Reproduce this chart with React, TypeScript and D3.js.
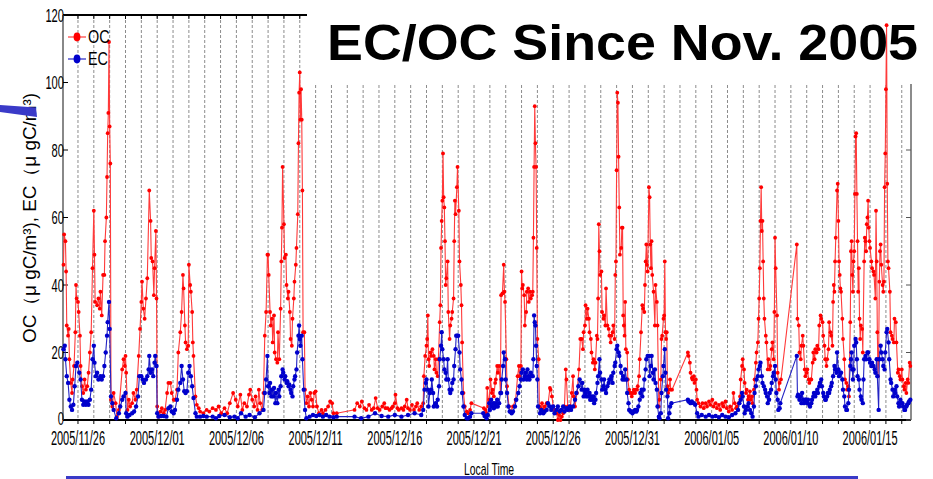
import React from "react";
import * as d3 from "d3";

// hours after 2005/11/26 00:00, concentration (µgC/m³ as labelled on the axis)
const ocSeries: [number, number][] = [
  [-22,46],[-21,55],[-19,53],[-18,44],[-17,28],[-15,25],[-14,27],[-13,18],[-11,11],[-9,8],[-8,12],[-6,16],[-4,26],[-3,40],[-2,36],[0,35],[1,32],[3,25],[4,16],[6,10],[8,8],[10,12],[12,9],[14,10],[16,14],[18,20],[20,26],[22,45],[24,62],[25,49],[26,35],[29,34],[31,36],[33,33],[34,38],[36,31],[38,43],[40,43],[41,53],[43,60],[44,72],[45,85],[46,91],[47,112],[48,87],[49,76],[50,6],[52,4],[54,8],[57,5],[59,1],[62,3],[67,15],[69,18],[71,16],[72,19],[73,14],[75,3],[77,6],[79,4],[82,5],[84,8],[87,6],[89,9],[92,19],[94,27],[96,35],[97,41],[99,33],[101,30],[103,36],[105,42],[108,68],[110,59],[111,48],[113,47],[115,37],[116,45],[118,56],[119,36],[120,4],[122,1],[125,2.5],[127,3.5],[130,2],[132,3],[135,8],[137,11],[140,11],[142,8],[145,6],[147,6],[150,9],[152,20],[155,26],[157,32],[159,43],[160,39],[162,28],[163,23],[165,21],[167,22],[168,46],[170,40],[171,38],[173,32],[174,23],[175,19],[178,7],[180,4.5],[183,3.5],[185,2.5],[190,2],[195,3],[199,2.5],
  [204,3.5],[209,3],[213,4],[217,2],[222,3.5],[226,2],[230,5],[235,8],[239,6],[242,4],[246,7.5],[249,3],[252,5],[256,4],[259,7.5],[261,9],[264,6],[267,4],[269,7],[272,3],[274,9],[276,5],[279,3],[281,8],[283,25],[285,32],[287,49],[288,49],[289,43],[291,32],[292,28],[294,30],[295,23],[297,31],[298,20],[300,18],[302,17],[303,26],[305,18],[307,33],[308,47],[309,57],[310,75],[312,58],[313,48],[315,49],[316,40],[318,36],[319,38],[321,32],[322,24],[324,22],[325,30],[327,36],[328,41],[330,46],[331,51],[333,61],[334,82],[335,97],[336,103],[337,89],[338,98],[339,89],[340,68],[341,26],[343,26],[344,9],[346,5],[348,7],[350,4],[352,8],[354,6],[356,4],[358,8],[360,8.5],[362,4],[365,2],[369,3],[371,2],[375,3],[379,4],[382,5.5],[385,5],[387,2],[392,2],
  [419,3],[423,5],[427,4],[430,5.5],[434,3.5],[437,3],[441,4.5],[445,3],[448,3.5],[451,6.5],[454,3.5],[457,3],[461,4],[464,5],[466,3.5],[469,3.5],[472,3],[475,3.5],[477,4],[480,5],[481,7.5],[484,3.5],[486,3],[490,3.5],[493,3],[495,4],[498,6],[500,3.5],[503,3],[506,4.5],[509,3],[512,4],[514,5],[517,3],[520,4],[523,5],[524,13],[526,19],[528,22],[529,24],[530,31],[531,18],[532,16],[534,20],[535,19],[537,21],[539,19],[540,15],[542,18],[543,14],[545,13],[546,18],[548,29],[549,34],[550,51],[551,59],[552,65],[553,79],[554,66],[555,63],[556,53],[557,40],[558,42],[560,47],[561,32],[563,24],[564,28],[566,30],[567,32],[569,36],[570,53],[571,65],[572,61],[574,69],[575,75],[577,62],[578,47],[580,40],[581,34],[582,23],[584,8],[586,4],[589,2.5],[591,2],[594,3],[596,5],[615,3.5],[617,3],[619,2],[620,9.5],[622,4],[623,6],[625,12],[627,8],[628,9],[630,7],[632,11],[633,12],[635,16],[636,14],[638,16],[640,8],
  [641,37],[643,37.5],[645,46],[646,38],[647,35],[649,18],[650,10],[653,4],[655,2.5],[659,4],[663,6],[666,13],[668,16],[669,13],[671,16],[672,44],[673,39],[674,40],[676,37],[677,28],[679,32],[680,38],[682,39],[683,35],[685,38],[686,36],[688,37],[689,38],[690,54],[691,75],[692,93],[693,82],[694,75],[695,51],[696,24],[698,18],[699,4],[701,3.5],[703,5],[705,3],[707,4],[710,5],[712,4.5],[715,9.5],[716,9],[718,7],[720,4],[722,3],[725,2],[727,0],[729,1.5],[731,0],[733,1],[735,2],[737,4],[739,15],[740,12],[742,4],[744,3],[746,4],[748,8],[750,13],[751,7],[753,4],[756,8],[759,15],[761,24],[763,24],[765,21],[766,26],[768,28],[769,34],[771,30],[772,33],[774,30],[775,26],[777,24],[778,20],[780,17],[781,18],[783,15],[784,17],[786,25],[787,24],[788,36],[789,58],[790,50],[791,43],[793,44],[794,32],[796,30],[797,31],[799,28],[800,39],[802,28],[804,27],[805,25],[807,23],[808,25],[810,26],[811,28],[813,24],[814,43],[815,47],[816,74],[817,97],[818,94],[819,78],[820,63],[821,49],[823,51],[824,57],[825,57],[826,31],[827,28],[828,25],[829,35],[830,21],[832,20],[833,12],[835,9],[836,8],[838,8],[839,7],[841,8],[842,9],[844,8],[845,9],[847,9],[848,10],[850,13],[851,18],[853,26],[855,34],[856,33],[858,32],[859,40],[860,47],[861,52],[862,46],[863,44],
  [865,69],[866,66],[867,52],[868,45],[869,53],[870,43],[872,38],[874,28],[875,40],[877,35],[878,28],[880,4],[881,6],[883,12],[884,24],[885,25],[887,30],[888,31],[889,47],[890,26],[891,24],[892,26],[893,10],[894,8],[895,9],[897,12],[898,9],[900,9],[924,20],[925,19],[927,17],[928,14],[930,12.5],[931,12],[933,13],[934,11],[936,12],[937,9],[938,6],[940,5],[943,4],[946,5],[948,3.5],[951,5],[953,4],[956,5.5],[958,4.5],[961,6],[963,4],[966,5],[968,3.5],[971,4.5],[973,3],[976,5],[978,4],[981,5.5],[983,3.5],[986,2.5],[988,4],[991,3],[993,8],[995,5],[997,3.5],[999,4],[1001,5],[1003,7],[1004,12],[1006,16],[1007,18],[1009,15],[1010,11],[1012,8],[1013,9],[1015,6],[1016,7],[1018,8.5],[1019,6],[1021,7],[1022,5],[1024,9],[1025,12],[1027,17],[1028,20],[1030,23],[1031,30],[1032,36],[1033,45],[1034,59],[1035,69],[1036,56],[1037,59],[1038,47],[1039,36],[1040,30],[1042,25],[1043,23],[1045,15],[1046,18],[1048,15],[1049,16],[1051,21],[1052,23],[1054,18],[1055,32],[1056,54],[1057,45],[1059,31],[1060,14],[1062,9],[1063,11],[1065,12],
  [1089,52],[1090,30],[1092,28],[1093,20],[1095,18],[1096,22],[1098,25],[1099,22],[1101,15],[1102,13],[1104,14],[1105,15],[1107,12],[1108,11],[1110,12],[1111,12],[1113,17],[1114,20],[1116,18],[1117,21],[1119,20],[1120,22],[1122,21],[1123,28],[1125,31],[1126,30],[1128,29],[1129,25],[1131,22],[1132,18],[1134,16],[1135,18],[1137,21],[1138,29],[1140,26],[1141,25],[1143,22],[1144,35],[1145,40],[1146,38],[1147,47],[1148,54],[1150,68],[1151,70],[1152,59],[1153,47],[1154,43],[1155,39],[1156,38],[1158,30],[1159,24],[1161,18],[1162,12],[1164,11],[1165,9],[1167,10],[1168,7],[1170,29],[1171,50],[1172,53],[1173,43],[1174,38],[1175,47],[1176,50],[1177,67],[1178,84],[1179,85],[1180,67],[1181,53],[1182,38],[1183,45],[1184,30],[1185,24],[1186,28],[1188,27],[1189,20],[1191,47],[1192,54],[1193,53],[1194,50],[1195,58],[1196,60],[1197,65],[1198,57],[1199,53],[1200,51],[1202,47],[1203,45],[1205,44],[1206,43],[1208,36],[1209,62],[1210,47],[1211,26],[1212,13],[1213,18],[1214,41],[1215,50],[1216,52],[1217,46],[1219,40],[1220,38],[1221,41],[1222,69],[1223,79],[1224,98],[1225,117],[1226,70],[1227,47],[1228,45],[1230,38],[1231,26],[1233,25],[1234,24],[1236,23],[1237,30],[1239,29],[1240,23],[1242,14],[1243,15],[1245,13],[1246,12],[1248,15],[1249,12],[1251,10],[1252,9],[1254,11],[1255,8],[1257,12],[1258,11],[1260,17],[1261,16],
];

const ecSeries: [number, number][] = [
  [-22,21],[-20,22],[-19,18],[-17,13],[-15,11],[-13,6],[-11,4],[-9,3],[-7,4.5],[-5,10],[-3,16],[-1,17],[2,14],[4,12],[6,6],[8,4.5],[10,5.5],[12,4.5],[14,5.5],[16,4.5],[18,6],[20,9],[22,18],[24,22],[25,17],[27,13],[29,14],[31,12],[34,13],[36,12],[38,13],[40,16],[42,20],[44,25],[45,29],[47,35],[48,27],[50,7],[52,5],[54,3],[58,0.5],[62,2],[64,4],[67,6],[69,7],[72,8],[73,2],[75,1],[78,1.5],[82,2],[85,2.5],[88,4],[91,7],[93,13],[96,13],[98,12],[100,11],[103,12],[105,13],[107,15],[108,19],[110,14],[112,15],[114,13],[116,17],[117,19],[119,16],[120,2],[122,1],[126,1.2],[130,1.2],[134,1],[137,3.5],[140,4],[142,2.5],[145,2],[147,3],[150,6],[152,9],[155,11],[157,16],[159,12],[161,8.5],[163,8],[165,8.5],[167,14],[169,16],[171,13],[173,10],[175,6.5],[178,2],[180,1],[185,1],[190,1.2],[195,1],
  [204,1],[209,0.5],[214,1.2],[222,1.5],[230,0.8],[237,1],[242,0.5],[247,2],[254,1],[260,1.5],[268,0.8],[275,2],[281,3],[283,8],[285,12],[287,19],[288,10],[290,8],[291,11],[293,7],[294,9],[296,7],[297,9.5],[299,5],[300,8],[302,5],[304,9],[305,7],[307,10],[308,13],[310,15],[311,14],[313,12],[314,13],[316,11],[317,11.5],[319,10],[320,10.5],[322,9],[323,8],[325,7],[326,10],[328,12],[329,13],[331,15],[332,20],[334,25],[335,28],[336,24],[337,22],[339,25],[340,18],[342,9],[344,3],[346,0.5],[351,1],[356,1.5],[361,1.2],[366,1.5],[371,1],[376,1.5],[381,1],[387,0.8],[392,1],
  [419,1],[429,0.5],[440,1],[450,2],[460,1.2],[470,1],[480,1.5],[490,1],[500,1.5],[510,2],[520,1.5],[523,3],[525,9],[527,11],[528,12],[530,9],[531,4],[533,8],[535,9],[536,12],[538,8],[539,4],[541,4.5],[542,5],[544,4],[545,6],[547,10],[548,18],[550,22],[551,26],[552,21],[554,18],[555,15],[557,14],[558,12],[560,18],[561,12],[563,9],[564,8],[566,9],[567,11],[569,12],[570,16],[572,21],[573,25],[575,25],[576,25],[578,20],[579,15],[581,12],[582,8],[584,4],[586,1.5],[589,0.5],[591,0.5],[594,1],[596,2],[614,2],[616,1.2],[619,0.5],[621,1.5],[623,5],[624,3],[626,6],[627,4],[629,5],[630,3.5],[632,5],[633,4],[635,6],[636,4],[638,5],[640,8],
  [641,8],[642,12],[644,16],[645,20],[647,18],[648,12],[650,8],[652,4],[654,2.5],[657,2],[659,2.5],[662,4],[664,6],[667,8],[669,10],[671,12],[672,14],[674,15],[675,12],[677,13],[678,14],[680,12],[681,15],[683,13],[684,12],[686,14],[687,13],[689,13],[690,18],[691,31],[692,29],[693,28],[694,22],[695,16],[696,12],[697,4],[700,2],[702,3],[705,2],[707,2.5],[710,3],[712,5],[715,4],[717,3],[720,4],[722,2],[725,3],[727,4],[730,2.5],[732,3],[735,4],[737,2.5],[740,3.5],[742,3],[745,4],[747,3],[750,4],[753,6],[755,8],[758,10],[760,12],[763,9],[764,11],[766,7],[767,9],[769,8],[770,7],[772,9],[773,7],[775,8],[776,6],[778,7],[779,6],[781,7],[782,5],[784,6],[785,8],[787,11],[788,13],[790,18],[791,14],[793,12],[794,9],[796,10],[797,12],[799,9],[800,8],[802,10],[804,11],[805,12],[807,12],[808,13],[810,11],[811,14],[813,16],[814,17],[816,21],[817,22],[819,20],[820,19],[822,16],[823,14],[825,12],[826,13],[828,12],[829,15],[831,12],[832,8],[834,5],[835,3],[837,2.5],[838,2.5],[840,2],[841,2.5],[843,2.5],[844,3],[846,2.5],[847,3],[849,4],[851,6],[852,8],[854,9],[855,7],[857,9],[858,12],[860,15],[861,18],[863,19],
  [865,19],[866,13],[868,16],[869,19],[871,14],[872,12],[874,15],[875,11],[877,9],[878,4],[880,1],[881,0.5],[883,2],[884,8],[886,13],[887,16],[889,21],[890,14],[891,9],[893,7],[894,0.5],[896,2],[897,4],[899,5],[924,6],[925,5.5],[928,5],[930,5.5],[933,5],[935,4.5],[938,2],[940,1],[945,1.5],[951,1],[956,1.5],[961,1],[966,1.2],[971,0.8],[976,1.5],[981,1],[986,0.8],[991,1.5],[996,2],[1000,3],[1002,5],[1004,6],[1006,8],[1007,7],[1009,4],[1010,2],[1012,3],[1014,4],[1016,5],[1018,3],[1020,2],[1022,1],[1024,4],[1025,8],[1027,10],[1028,12],[1030,13],[1031,15],[1033,16],[1034,17],[1036,13],[1037,11],[1039,10],[1041,9],[1042,8],[1044,7],[1045,5],[1047,6],[1048,8],[1050,9],[1051,11],[1053,13],[1054,14],[1056,16],[1057,12],[1058,8],[1060,6],[1061,3],[1063,3.5],[1064,5],
  [1089,19],[1090,7],[1091,7.5],[1093,6],[1094,7],[1096,5],[1097,8],[1099,6],[1100,5],[1102,6],[1103,6],[1105,5],[1106,6],[1108,4.5],[1109,4],[1111,5],[1112,6],[1114,7],[1115,8],[1117,7],[1118,8],[1120,9],[1121,8],[1123,10],[1124,11],[1126,12],[1127,10],[1129,8],[1130,7],[1132,6],[1133,6],[1135,7],[1136,8],[1138,8],[1139,9],[1141,10],[1142,11],[1144,13],[1146,16],[1147,15],[1149,14],[1150,20],[1152,15],[1153,13],[1155,14],[1156,14],[1158,12],[1159,9],[1161,7],[1162,4],[1164,3],[1165,3],[1167,5],[1168,9],[1170,16],[1171,18],[1172,20],[1173,15],[1174,12],[1175,15],[1176,22],[1178,24],[1179,23],[1180,18],[1181,13],[1183,12],[1184,9],[1186,7],[1187,6],[1189,5],[1190,12],[1191,18],[1193,19],[1194,18],[1196,20],[1197,20],[1199,18],[1200,17],[1202,16],[1203,17],[1205,16],[1207,15],[1208,14],[1210,18],[1211,13],[1213,3],[1214,18],[1216,22],[1217,20],[1219,18],[1220,16],[1222,15],[1223,20],[1225,26],[1226,27],[1228,23],[1229,18],[1231,12],[1232,11],[1234,9],[1235,7],[1237,9],[1238,8],[1240,10],[1241,7],[1243,5],[1244,4],[1246,6],[1247,5],[1249,5],[1250,4],[1252,3],[1253,3],[1255,4],[1256,4.5],[1258,5],[1259,5.5],[1261,6],
];

const xTickLabels = [
  "2005/11/26", "2005/12/01", "2005/12/06", "2005/12/11", "2005/12/16", "2005/12/21",
  "2005/12/26", "2005/12/31", "2006/01/05", "2006/01/10", "2006/01/15",
];
const yTicks = [0, 20, 40, 60, 80, 100, 120];
const seriesNames = ["OC", "EC"];
const seriesColors = { OC: "#ff0000", EC: "#0000cc" };
const lineColors = { OC: "#ff3a3a", EC: "#2424c4" };

const W = 933;
const H = 479;
const margin = { top: 15, right: 22, bottom: 59, left: 63 };
const t0 = new Date(2005, 10, 26);
const toDate = (h: number) => new Date(t0.getTime() + h * 3600e3);
const parseDay = d3.timeParse("%Y/%m/%d");
const font = "'Liberation Sans', Arial, sans-serif";

// narrow text: the slide used a condensed face, so squeeze horizontally
const Narrow = ({ x, y, size, sx, anchor = "start", children }) => (
  <text
    transform={`translate(${x},${y}) scale(${sx},1)`}
    fontSize={size}
    textAnchor={anchor}
  >
    {children}
  </text>
);

const App = () => {
  const x = d3
    .scaleTime()
    .domain([new Date(2005, 10, 25, 1, 18), new Date(2006, 0, 17, 14, 0)])
    .range([margin.left, W - margin.right]);
  const y = d3
    .scaleLinear()
    .domain([0, 120])
    .range([H - margin.bottom, margin.top]);

  const x0 = x.range()[0];
  const x1 = x.range()[1];
  const yBottom = y(0);
  const yTop = y(120);

  const days = d3.timeDay.range(d3.timeDay.ceil(x.domain()[0]), x.domain()[1]);

  const line = d3
    .line<[number, number]>()
    .x((d) => x(toDate(d[0])))
    .y((d) => y(d[1]));

  const series = [
    { name: "OC", data: ocSeries, r: 1.9 },
    { name: "EC", data: ecSeries, r: 2.2 },
  ];

  return (
    <svg
      width={W}
      height={H}
      style={{ position: "absolute", left: 0, top: 0, background: "#fff" }}
      fontFamily={font}
    >
      {/* daily dashed grid */}
      {days.map((d, i) => (
        <line
          key={"g" + i}
          x1={x(d)}
          x2={x(d)}
          y1={yTop}
          y2={yBottom}
          stroke="#8c8c8c"
          strokeDasharray="3,2"
          strokeWidth={1}
        />
      ))}
      {/* day ticks top and bottom */}
      {days.map((d, i) => (
        <g key={"t" + i}>
          <line x1={x(d)} x2={x(d)} y1={yTop} y2={yTop + 4} stroke="#000" />
          <line x1={x(d)} x2={x(d)} y1={yBottom} y2={yBottom + 4} stroke="#000" />
        </g>
      ))}
      {/* axes frame */}
      <line x1={x0} x2={x1} y1={yTop} y2={yTop} stroke="#000" strokeWidth={2} />
      <line x1={x0} x2={x1} y1={yBottom} y2={yBottom} stroke="#000" strokeWidth={2} />
      <line x1={x0} x2={x0} y1={yTop} y2={yBottom} stroke="#888" strokeWidth={2} />
      <line x1={x1} x2={x1} y1={yTop} y2={yBottom} stroke="#666" strokeWidth={1.5} />
      {yTicks.map((t) => (
        <g key={"y" + t}>
          <line x1={x0} x2={x0 + 5} y1={y(t)} y2={y(t)} stroke="#000" />
          <line x1={x1 - 5} x2={x1} y1={y(t)} y2={y(t)} stroke="#555" />
          <Narrow x={x0 + 1} y={y(t) + (t === 0 ? 5 : 6.5)} size={18} sx={0.62} anchor="end">
            {t}
          </Narrow>
        </g>
      ))}

      {/* title box hides the top right of the frame */}
      <rect x={307} y={0} width={W - 307} height={84} fill="#fff" />

      {series.map((s) => (
        <g key={s.name}>
          <path
            d={line(s.data) || ""}
            fill="none"
            stroke={lineColors[s.name]}
            strokeWidth={1.1}
          />
          {s.data.map((d, i) => (
            <circle
              key={i}
              cx={x(toDate(d[0]))}
              cy={y(d[1])}
              r={s.r}
              fill={seriesColors[s.name]}
            />
          ))}
        </g>
      ))}

      {/* x labels */}
      {xTickLabels.map((lab) => (
        <Narrow key={lab} x={x(parseDay(lab))} y={445} size={20} sx={0.55} anchor="middle">
          {lab}
        </Narrow>
      ))}

      {/* legend */}
      {seriesNames.map((n, i) => (
        <g key={"l" + n} transform={`translate(68,${37 + i * 22})`}>
          <line x1={0} x2={18} y1={0} y2={0} stroke={lineColors[n]} strokeWidth={1.2} />
          <ellipse cx={9} cy={0} rx={3.4} ry={4.4} fill={seriesColors[n]} />
          <Narrow x={20} y={6} size={18} sx={0.8}>
            {n}
          </Narrow>
        </g>
      ))}

      {/* y axis title */}
      <text
        transform="translate(36,218) rotate(-90)"
        textAnchor="middle"
        fontSize={18}
        textLength={250}
        lengthAdjust="spacingAndGlyphs"
      >
        OC（μ gC/m³), EC（μ gC/m³)
      </text>

      {/* x axis title and slide decorations */}
      <line x1={66} x2={858} y1={477.5} y2={477.5} stroke="#3a3ac8" strokeWidth={3} />
      <Narrow x={489} y={475} size={16} sx={0.65} anchor="middle">
        Local Time
      </Narrow>
      <polygon points="0,105 36,107.5 37,117 0,112" fill="#3a3ac8" />

      <text
        x={327}
        y={60}
        fontSize={50}
        fontWeight="bold"
        textLength={591}
        lengthAdjust="spacingAndGlyphs"
      >
        EC/OC Since Nov. 2005
      </text>
    </svg>
  );
};

export default App;
